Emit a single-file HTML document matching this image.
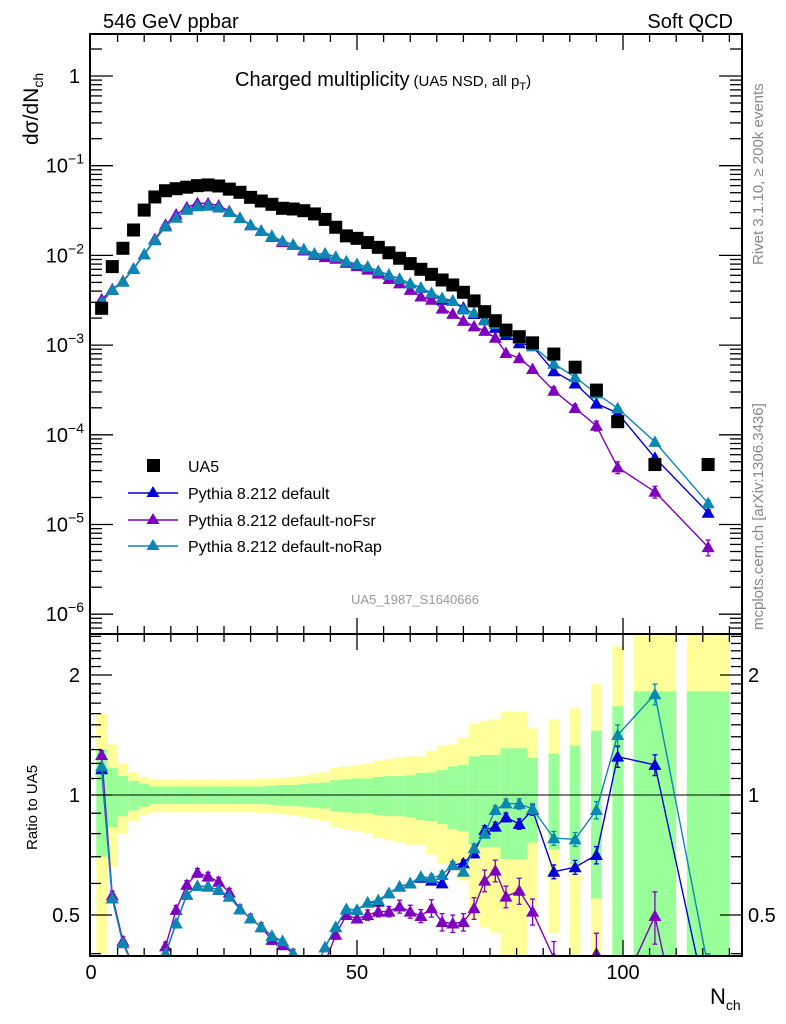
<!DOCTYPE html>
<html><head><meta charset="utf-8"><style>
html,body{margin:0;padding:0;background:#fff;overflow:hidden;width:786px;height:1024px;}
svg{display:block;font-family:"Liberation Sans",sans-serif;}
</style></head><body>
<svg id="chart" width="786" height="1024" viewBox="0 0 786 1024" xmlns="http://www.w3.org/2000/svg">
<defs>
<clipPath id="clipMain"><rect x="90" y="34" width="652" height="600"/></clipPath>
<clipPath id="clipRatio"><rect x="90" y="634" width="652" height="322"/></clipPath>
</defs>
<g id="bands" clip-path="url(#clipRatio)"></g>
<g id="ratioMarks" clip-path="url(#clipRatio)"></g>
<g id="mainMarks" clip-path="url(#clipMain)"></g>
<g id="axes"></g>
<text x="103" y="28" font-size="20">546 GeV ppbar</text>
<text x="733" y="28" font-size="20" text-anchor="end">Soft QCD</text>
<text x="235" y="86" font-size="20">Charged multiplicity<tspan font-size="15" dx="4">(UA5 NSD, all p</tspan><tspan font-size="11" dy="4">T</tspan><tspan font-size="15" dy="-4">)</tspan></text>
<text transform="translate(38,145) rotate(-90)" font-size="21">dσ/dN<tspan font-size="14" dy="5">ch</tspan></text>
<text transform="translate(763,265) rotate(-90)" font-size="15" fill="#888">Rivet 3.1.10, ≥ 200k events</text>
<text transform="translate(763,630) rotate(-90)" font-size="15" fill="#888">mcplots.cern.ch [arXiv:1306.3436]</text>
<text x="415" y="604" font-size="13" fill="#999" text-anchor="middle">UA5_1987_S1640666</text>
<text transform="translate(37,850) rotate(-90)" font-size="15">Ratio to UA5</text>
<text x="710" y="1004" font-size="22">N<tspan font-size="14" dy="6">ch</tspan></text>
<g id="legend">
<rect x="147" y="459" width="13" height="13" fill="#000"/>
<text x="188" y="472" font-size="16">UA5</text>
<line x1="128" y1="493" x2="178" y2="493" stroke="#0000dd" stroke-width="1.5"/>
<polygon points="153,486 159.5,497 146.5,497" fill="#0000dd"/>
<text x="188" y="499" font-size="16">Pythia 8.212 default</text>
<line x1="128" y1="520" x2="178" y2="520" stroke="#8000c0" stroke-width="1.5"/>
<polygon points="153,513 159.5,524 146.5,524" fill="#8000c0"/>
<text x="188" y="526" font-size="16">Pythia 8.212 default-noFsr</text>
<line x1="128" y1="546" x2="178" y2="546" stroke="#0a88b2" stroke-width="1.5"/>
<polygon points="153,539 159.5,550 146.5,550" fill="#0a88b2"/>
<text x="188" y="552" font-size="16">Pythia 8.212 default-noRap</text>
</g>
</svg>
<script>
const nch = [2,4,6,8,10,12,14,16,18,20,22,24,26,28,30,32,34,36,38,40,42,44,46,48,50,52,54,56,58,60,62,64,66,68,70,72,74,76,78,80.5,83,87,91,95,99,106,116];
const binLo = [1,3,5,7,9,11,13,15,17,19,21,23,25,27,29,31,33,35,37,39,41,43,45,47,49,51,53,55,57,59,61,63,65,67,69,71,73,75,77,79,82,86,90,94,98,102,112];
const binHi = [3,5,7,9,11,13,15,17,19,21,23,25,27,29,31,33,35,37,39,41,43,45,47,49,51,53,55,57,59,61,63,65,67,69,71,73,75,77,79,82,84,88,92,96,100,110,120];
const ua5 = [2.57e-3,7.5e-3,1.20e-2,1.92e-2,3.2e-2,4.48e-2,5.26e-2,5.54e-2,5.76e-2,5.99e-2,6.10e-2,5.94e-2,5.48e-2,5.05e-2,4.44e-2,4.04e-2,3.71e-2,3.35e-2,3.29e-2,3.15e-2,2.90e-2,2.52e-2,2.06e-2,1.65e-2,1.55e-2,1.39e-2,1.23e-2,1.07e-2,9.3e-3,8.1e-3,7.0e-3,6.15e-3,5.32e-3,4.68e-3,3.88e-3,3.11e-3,2.36e-3,1.87e-3,1.47e-3,1.24e-3,1.06e-3,7.95e-4,5.67e-4,3.15e-4,1.40e-4,4.66e-5,4.66e-5];
const statErr = [0.3,0.17,0.116,0.086,0.066,0.05,0.05,0.05,0.05,0.05,0.05,0.05,0.05,0.05,0.05,0.05,0.055,0.06,0.06,0.065,0.07,0.075,0.09,0.095,0.1,0.1,0.11,0.115,0.115,0.12,0.135,0.14,0.155,0.18,0.19,0.25,0.26,0.26,0.31,0.31,0.24,0.27,0.33,0.45,0.67,0.82,0.82];
const totErr = [0.6,0.34,0.2,0.14,0.11,0.095,0.095,0.095,0.095,0.095,0.095,0.095,0.095,0.095,0.095,0.1,0.1,0.105,0.11,0.12,0.13,0.14,0.17,0.18,0.19,0.2,0.22,0.23,0.24,0.25,0.25,0.29,0.33,0.34,0.39,0.51,0.535,0.55,0.62,0.62,0.47,0.55,0.65,0.9,1.36,2,2];
const ratioDefault = [1.16,0.55,0.425,0.37,0.32,0.33,0.40,0.476,0.562,0.591,0.589,0.578,0.556,0.517,0.49,0.466,0.443,0.43,0.40,0.37,0.36,0.415,0.466,0.517,0.515,0.537,0.54,0.567,0.589,0.60,0.62,0.61,0.60,0.667,0.674,0.714,0.817,0.833,0.879,0.846,0.917,0.642,0.659,0.707,1.248,1.19,0.29];
const ratioNoFsr = [1.26,0.56,0.43,0.37,0.32,0.34,0.417,0.515,0.595,0.638,0.624,0.606,0.569,0.517,0.49,0.466,0.433,0.42,0.40,0.36,0.35,0.38,0.446,0.50,0.49,0.50,0.51,0.51,0.525,0.51,0.497,0.52,0.48,0.476,0.48,0.52,0.61,0.646,0.556,0.575,0.51,0.39,0.35,0.40,0.31,0.497,0.12];
const ratioNoRap = [1.18,0.55,0.425,0.37,0.32,0.33,0.40,0.476,0.562,0.591,0.589,0.578,0.556,0.517,0.49,0.466,0.443,0.43,0.40,0.37,0.36,0.415,0.466,0.517,0.515,0.537,0.545,0.567,0.589,0.60,0.624,0.62,0.63,0.667,0.642,0.735,0.80,0.917,0.953,0.95,0.923,0.779,0.774,0.917,1.414,1.79,0.37];
const mcRelErr = [0.01,0.01,0.01,0.01,0.01,0.01,0.01,0.01,0.01,0.01,0.01,0.01,0.01,0.01,0.01,0.01,0.01,0.01,0.01,0.01,0.01,0.01,0.01,0.01,0.01,0.012,0.012,0.012,0.015,0.015,0.015,0.02,0.02,0.02,0.02,0.025,0.025,0.025,0.025,0.03,0.03,0.04,0.04,0.05,0.06,0.06,0.08];
const xTicks = [0,50,100];
const ratioTicks = [0.5,1,2];
const ratioTickLabels = ["0.5","1","2"];

const NS = "http://www.w3.org/2000/svg";
const L=90,R=742,T=34,MB=634,RB=956;
const xs = n => 91 + 5.32*n;
const ym = v => 76 - 89.7*Math.log10(v);
const yr = r => 795 - 398.6*Math.log10(r);
function mk(parent, tag, attrs){ const e=document.createElementNS(NS,tag); for(const k in attrs) e.setAttribute(k,attrs[k]); document.getElementById(parent).appendChild(e); return e; }

for(let i=0;i<nch.length;i++){
  const x1=xs(binLo[i]), x2=xs(binHi[i]);
  const yt=Math.max(MB,yr(1+totErr[i])), yb=Math.min(RB,yr(Math.max(1-totErr[i],0.05)));
  let e=mk('bands','rect',{x:x1,y:yt,width:x2-x1,height:Math.max(0,yb-yt),fill:'#ffff99'});
  
  
  const gt=Math.max(MB,yr(1+statErr[i])), gb=Math.min(RB,yr(Math.max(1-statErr[i],0.05)));
  e=mk('bands','rect',{x:x1,y:gt,width:x2-x1,height:Math.max(0,gb-gt),fill:'#99ff99'});
  
  
}
let rl=mk('ratioMarks','line',{x1:L,x2:R,y1:yr(1),y2:yr(1),stroke:'#000','stroke-width':1});



// clip a polyline vertically to [y0,y1] and return path data
function clippedPath(pts,y0,y1){
  let d='';
  for(let i=0;i<pts.length-1;i++){
    let [ax,ay]=pts[i],[bx,by]=pts[i+1];
    let t0=0,t1=1; const dy=by-ay;
    if(dy===0){ if(ay<y0||ay>y1) continue; }
    else{
      let ta=(y0-ay)/dy, tb=(y1-ay)/dy; if(ta>tb){const t=ta;ta=tb;tb=t;}
      t0=Math.max(0,ta); t1=Math.min(1,tb); if(t0>=t1) continue;
    }
    d+='M'+(ax+(bx-ax)*t0)+','+(ay+dy*t0)+'L'+(ax+(bx-ax)*t1)+','+(ay+dy*t1);
  }
  return d;
}
const series=[['default',ratioDefault,'#0000dd',1],['nofsr',ratioNoFsr,'#8000c0',2.5],['norap',ratioNoRap,'#0a88b2',1]];
function tri(g,x,y,c,name,y0,y1){ if(y<y0||y>y1) return; const p=mk(g,'polygon',{points:`${x},${y-6.5} ${x+6.5},${y+5} ${x-6.5},${y+5}`,fill:c});   }
function errbar(g,x,y1,y2,c,lo,hi){ if(Math.abs(y2-y1)<6) return; if(y2<lo||y1>hi) return; y1=Math.max(lo,y1); y2=Math.min(hi,y2); mk(g,'line',{x1:x,x2:x,y1:y1,y2:y2,stroke:c,'stroke-width':1.3}); mk(g,'line',{x1:x-2.5,x2:x+2.5,y1:y1,y2:y1,stroke:c,'stroke-width':1.3}); mk(g,'line',{x1:x-2.5,x2:x+2.5,y1:y2,y2:y2,stroke:c,'stroke-width':1.3}); }
for(const [nm,arr,col,ef] of series){
  const pr=[], pm=[];
  for(let i=0;i<nch.length;i++){
    const x=xs(nch[i]); pr.push([x,yr(arr[i])]); pm.push([x,ym(arr[i]*ua5[i])]);
  }
  let e=mk('ratioMarks','path',{d:clippedPath(pr,MB,RB),fill:'none',stroke:col,'stroke-width':1.4});
  
  
  e=mk('mainMarks','path',{d:clippedPath(pm,T,MB),fill:'none',stroke:col,'stroke-width':1.4});
  
  
  for(let i=0;i<nch.length;i++){
    const x=xs(nch[i]), r=arr[i], v=r*ua5[i], err=mcRelErr[i]*ef;
    errbar('ratioMarks',x,yr(r*(1+err)),yr(r*(1-err)),col,MB,RB);
    errbar('mainMarks',x,ym(v*(1+err)),ym(v*(1-err)),col,T,MB);
    tri('ratioMarks',x,yr(r),col,'ratio-point-'+nm,MB-5,RB+6);
    tri('mainMarks',x,ym(v),col,'point-'+nm,T,MB);
  }
}
for(let i=0;i<nch.length;i++){
  const q=mk('mainMarks','rect',{x:xs(nch[i])-6.5,y:ym(ua5[i])-6.5,width:13,height:13,fill:'#000'});
  
  
}
function ln(x1,y1,x2,y2,w){ mk('axes','line',{x1,y1,x2,y2,stroke:'#000','stroke-width':w||1.3}); }
let fr=mk('axes','rect',{x:L,y:T,width:R-L,height:MB-T,fill:'none',stroke:'#000','stroke-width':2});


fr=mk('axes','rect',{x:L,y:MB,width:R-L,height:RB-MB,fill:'none',stroke:'#000','stroke-width':2});


for(let n=5;n<=120;n+=5){
  const x=xs(n), len=(n%50===0)?16:8;
  ln(x,T,x,T+len); ln(x,MB,x,MB+len); ln(x,MB,x,MB-len); ln(x,RB,x,RB-len);
}
for(let i=0;i<xTicks.length;i++){
  const t=mk('axes','text',{x:xs(xTicks[i]),y:979,'font-size':20,'text-anchor':'middle'}); t.textContent=String(xTicks[i]);
  
  
}
for(let d=-7;d<=0;d++){
  for(let m=1;m<=9;m++){
    const v=m*Math.pow(10,d), y=ym(v); if(y<T||y>MB) continue;
    const len=(m===1)?23:12; ln(L,y,L+len,y); ln(R,y,R-len,y);
  }
}
for(let d=0;d>=-6;d--){
  const y=ym(Math.pow(10,d))+7;
  const t=mk('axes','text',{x:80,y:y,'font-size':20,'text-anchor':'end'});
  if(d===0) t.textContent='1'; else { t.textContent='10'; const s=document.createElementNS(NS,'tspan'); s.setAttribute('font-size','14'); s.setAttribute('dy','-9'); s.textContent='−'+(-d); t.appendChild(s); t.setAttribute('x','84'); }
  
  
}
for(let k=4;k<=25;k++){
  const r=k/10, y=yr(r); if(y<MB||y>RB) continue;
  const len=(k===5||k===10||k===20)?22:11; ln(L,y,L+len,y); ln(R,y,R-len,y);
}
for(let i=0;i<ratioTicks.length;i++){
  const y=yr(ratioTicks[i])+7;
  let t=mk('axes','text',{x:80,y:y,'font-size':20,'text-anchor':'end'}); t.textContent=ratioTickLabels[i];
  
  
  t=mk('axes','text',{x:748,y:y,'font-size':20}); t.textContent=ratioTickLabels[i];
  
  
}
</script>
</body></html>
